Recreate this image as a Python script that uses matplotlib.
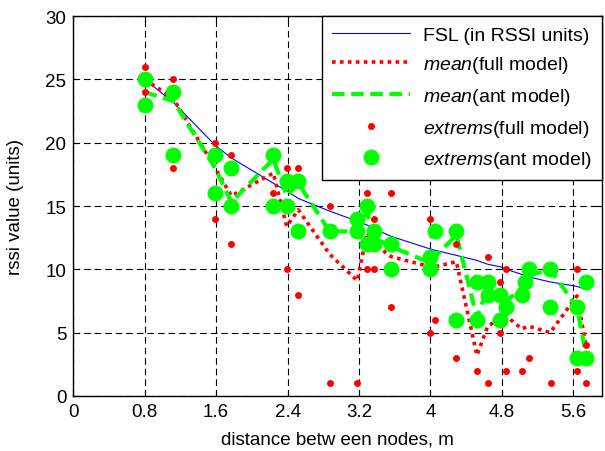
import matplotlib
matplotlib.use("Agg")
import matplotlib.pyplot as plt

plt.rcParams['font.family'] = ['Liberation Sans', 'DejaVu Sans']
plt.rcParams['mathtext.fontset'] = 'custom'
plt.rcParams['mathtext.it'] = 'Liberation Sans:italic'
plt.rcParams['mathtext.rm'] = 'Liberation Sans'

# distances (m)
dist = [0.8, 1.12, 1.59, 1.77, 2.24, 2.39, 2.52, 2.87, 3.18, 3.29, 3.37, 3.56,
        4.0, 4.05, 4.29, 4.52, 4.64, 4.78, 4.85, 5.02, 5.1, 5.34, 5.64, 5.74]
fsl = [25.0, 23.2, 19.8, 18.8, 16.8, 16.2, 15.6, 14.6, 13.8, 13.5, 13.2, 12.6,
       11.6, 11.5, 11.1, 10.7, 10.4, 10.2, 10.0, 9.6, 9.4, 9.0, 8.65, 8.4]
mean_full = [25, 23.5, 18, 15.8, 17.6, 13.4, 14.7, 11.2, 9.1, 12.9, 12.0, 11.0,
             10.2, 10.2, 10.6, 3.2, 5.5, 6.1, 6.3, 5.3, 5.5, 5.0, 7.9, 4.0]
mean_ant = [24, 23.3, 18, 15.3, 18.7, 15.8, 16.8, 13, 13, 14.5, 12.5, 11.8,
            10.5, 11, 12.7, 6.2, 8.5, 7.5, 7.5, 8.5, 9.5, 10, 7, 3.3]

# extremes (full model)
full_x = [0.8, 0.8, 1.12, 1.12, 1.59, 1.59, 1.77, 1.77, 2.24, 2.39, 2.39, 2.52, 2.52,
          2.87, 2.87, 3.18, 3.29, 3.29, 3.37, 3.37, 3.56, 3.56, 4.0, 4.0, 4.05,
          4.29, 4.29, 4.52, 4.64, 4.64, 4.78, 4.78, 4.85, 4.85, 5.03, 5.1, 5.35,
          5.64, 5.64, 5.74, 5.74]
full_y = [26, 24, 25, 18, 20, 14, 19, 12, 16, 18, 10, 18, 8,
          15, 1, 1, 16, 10, 14, 10, 16, 7, 14, 5, 6,
          12, 3, 2, 11, 1, 9, 5, 10, 2, 2, 3, 1,
          10, 2, 4, 1]

# extremes (ant model)
ant_x = [0.8, 0.8, 1.12, 1.12, 1.59, 1.59, 1.77, 1.77, 2.24, 2.24, 2.39, 2.39,
         2.52, 2.52, 2.87, 3.18, 3.18, 3.29, 3.29, 3.37, 3.37, 3.56, 3.56,
         4.0, 4.0, 4.05, 4.29, 4.29, 4.52, 4.52, 4.64, 4.64, 4.78, 4.78, 4.85,
         5.02, 5.06, 5.1, 5.34, 5.34, 5.64, 5.64, 5.74, 5.74]
ant_y = [25, 23, 24, 19, 19, 16, 18, 15, 19, 15, 17, 15,
         17, 13, 13, 14, 13, 15, 12, 13, 12, 12, 10,
         11, 10, 13, 13, 6, 9, 6, 9, 8, 8, 6, 7,
         8, 9, 10, 10, 7, 7, 3, 9, 3]

xticks = [0, 0.8, 1.6, 2.4, 3.2, 4.0, 4.8, 5.6]
xticklabels = ["0", "0.8", "1.6", "2.4", "3.2", "4", "4.8", "5.6"]
yticks = [0, 5, 10, 15, 20, 25, 30]

fig = plt.figure(figsize=(6.05, 4.52), dpi=100)
ax = fig.add_axes([0.121, 0.122, 0.874, 0.840])

ax.plot(dist, fsl, color='#0000ff', lw=0.8, label='FSL (in RSSI units)', zorder=3)
ax.plot(dist, mean_full, color='#ff0000', lw=2.6, linestyle=(0, (1, 1.2)),
        label=r'$\it{mean}$(full model)', zorder=4)
ax.plot(dist, mean_ant, color='#00ff00', lw=3.0, linestyle=(0, (3, 1.6)),
        label=r'$\it{mean}$(ant model)', zorder=5)
ax.plot(full_x, full_y, 'o', color='#ff0000', ms=5, mew=0, linestyle='none',
        label=r'$\it{extrems}$(full model)', zorder=6)
ax.plot(ant_x, ant_y, 'o', color='#00ff00', ms=11.5, mew=0, linestyle='none',
        label=r'$\it{extrems}$(ant model)', zorder=5)

ax.set_xlim(0, 5.92)
ax.set_ylim(0, 30)
ax.set_xticks(xticks)
ax.set_xticklabels(xticklabels)
ax.set_yticks(yticks)
ax.tick_params(direction='in', top=True, right=True, labelsize=13.5, length=4, pad=5)
ax.grid(True, color='black', linestyle=(0, (6, 3.5)), linewidth=0.8)
ax.set_axisbelow(True)
for s in ax.spines.values():
    s.set_linewidth(1.0)

ax.set_xlabel('distance betw een nodes, m', fontsize=13.5, labelpad=8)
ax.set_ylabel('rssi value (units)', fontsize=13.5, labelpad=15)

leg = ax.legend(loc='upper right', fontsize=14, numpoints=1, handlelength=4.0,
                fancybox=False, framealpha=1, edgecolor='black', borderaxespad=0,
                labelspacing=0.55, handletextpad=0.7, borderpad=0.5)
leg.get_frame().set_linewidth(1.0)

fig.savefig('out.png', dpi=100)
